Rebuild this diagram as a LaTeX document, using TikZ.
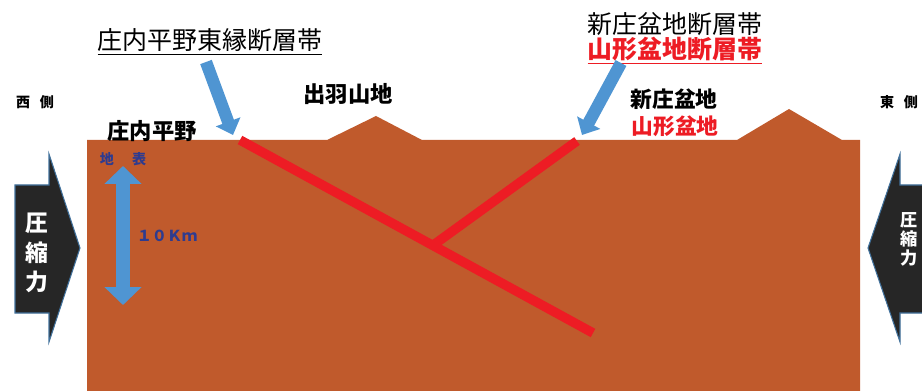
\documentclass[tikz,border=0pt]{standalone}
\usepackage{fontspec}
\setmainfont{Noto Sans CJK JP}
\usetikzlibrary{arrows.meta}
\definecolor{ground}{HTML}{C05A2C}
\definecolor{faultred}{HTML}{ED1C24}
\definecolor{arrowblue}{HTML}{4F95D2}
\definecolor{labelblue}{HTML}{2E3B8F}
\definecolor{pushblack}{HTML}{262626}
\definecolor{pushedge}{HTML}{41719C}

\begin{document}
\begin{tikzpicture}[line join=miter,x=0.02cm,y=-0.02cm,
    fault/.style={line width=5.4pt,color=faultred},
    pointer/.style={line width=7pt,color=arrowblue,-{Triangle[width=14.5pt,length=8pt]}},
    depth/.style={line width=8.4pt,color=arrowblue,{Triangle[width=20.5pt,length=10.2pt]}-{Triangle[width=20.5pt,length=10.2pt]}},
    push/.style={fill=pushblack,draw=pushedge,line width=0.6pt},
    place/.style={font=\bfseries\fontsize{12.7pt}{14pt}\selectfont,inner sep=0pt},
    side/.style={font=\bfseries\fontsize{8pt}{9pt}\selectfont,inner sep=0pt}]
		\clip (0,0) rectangle (922,391);
		% ground with the two ridges
		\fill [ground] (87,391) -- (87,140) -- (327,140) -- (376,116) -- (422,140) -- (737,140) -- (789,109) -- (842,140) -- (860,140) -- (860,391) -- cycle;
		% faults
		\coordinate (shonaiTop) at (240,140);
		\coordinate (shonaiEnd) at (593,333);
		\coordinate (shinjoTop) at (577,141);
		\coordinate (shinjoEnd) at (432,246);
		\draw [fault] (shonaiTop) -- (shonaiEnd);
		\draw [fault] (shinjoTop) -- (shinjoEnd);
		% compression arrows
		\draw [push] (15,185) -- (49,185) -- (49,154) -- (80,248) -- (49,342) -- (49,313) -- (15,313) -- cycle;
		\draw [push] (935,185) -- (900,185) -- (900,154) -- (868,248) -- (900,342) -- (900,313) -- (935,313) -- cycle;
		\node (pushW) [text=white,align=center,inner sep=0pt,font=\bfseries\fontsize{13pt}{17pt}\selectfont] at (37,253) {圧\\縮\\力};
		\node (pushE) [text=white,align=center,inner sep=0pt,font=\bfseries\fontsize{9.8pt}{10.8pt}\selectfont] at (909,239) {圧\\縮\\力};
		% depth scale
		\coordinate (surface) at (123,166);
		\coordinate (bottom) at (123,305);
		\draw [depth] (surface) -- (bottom);
		\node (surfaceLbl) [side,text=labelblue] at (123,159) {地\hspace{1.3em}表};
		\node (depthLbl) [text=labelblue,inner sep=0pt,font=\bfseries\fontsize{8.6pt}{10pt}\selectfont] at (167,236) {１０Ｋｍ};
		% labels
		\node (west) [side] at (35,102) {西\hspace{0.7em}側};
		\node (east) [side] at (899,102) {東\hspace{0.7em}側};
		\node (shonaiPlain) [place] at (152,131) {庄内平野};
		\node (dewa) [place] at (348,94) {出羽山地};
		\node (shinjoBasin) [place,font=\bfseries\fontsize{12.4pt}{14pt}\selectfont] at (674,99) {新庄盆地};
		\node (yamagataBasin) [place,text=faultred,font=\bfseries\fontsize{12.4pt}{14pt}\selectfont] at (675,126) {山形盆地};
		\node (shonaiFault) [inner sep=0pt,font=\fontsize{14.2pt}{16pt}\selectfont] at (210,42) {\underline{庄内平野東縁断層帯}};
		\node (shinjoFault) [inner sep=0pt,font=\fontsize{14.2pt}{16pt}\selectfont] at (675,24) {新庄盆地断層帯};
		\node (yamagataFault) [inner sep=0pt,text=faultred,font=\bfseries\fontsize{14.2pt}{16pt}\selectfont] at (675,51) {\underline{山形盆地断層帯}};
		% pointers to the fault tops
		\coordinate (shonaiTail) at (206,62);
		\coordinate (shonaiTip) at (233,135);
		\coordinate (shinjoTail) at (621,63);
		\coordinate (shinjoTip) at (582,135);
		\draw [pointer] (shonaiTail) -- (shonaiTip);
		\draw [pointer] (shinjoTail) -- (shinjoTip);
	\end{tikzpicture}
\end{document}
